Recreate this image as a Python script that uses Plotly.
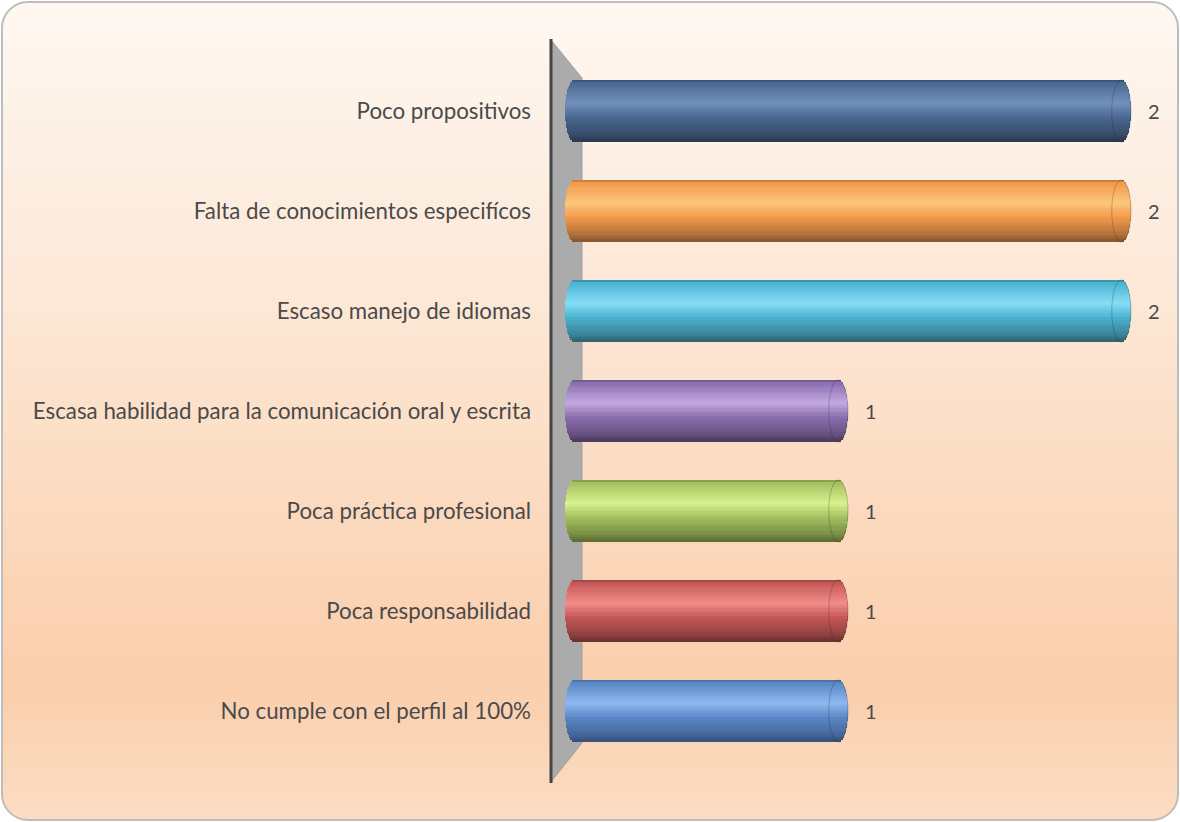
import numpy as np
import plotly.graph_objects as go

# ---------------- data ----------------
categories = [
    "Poco propositivos",
    "Falta de conocimientos especifícos",
    "Escaso manejo de idiomas",
    "Escasa habilidad para la comunicación oral y escrita",
    "Poca práctica profesional",
    "Poca responsabilidad",
    "No cumple con el perfil al 100%",
]
values = [2, 2, 2, 1, 1, 1, 1]

# colour triplets per bar: highlight, base, dark
hi_colors = ["#7191BC", "#FCC77C", "#86DEF7", "#C4A8E0", "#D9F291", "#F28E89", "#90B8F0"]
base_colors = ["#4A6891", "#F39A4C", "#4BB3D0", "#8B6FAF", "#A4C05F", "#C55857", "#5B88C7"]
dark_colors = ["#2A3850", "#84542E", "#2E6270", "#4A3B5C", "#5A6B33", "#6A3030", "#35507A"]

# ---------------- geometry ----------------
W, H = 1180, 822
L, R, T, B = 548, 28, 61, 61
PW, PH = W - L - R, H - T - B
X0PX, UNIT = 565.0, 283.0
xrange = [(L - X0PX) / UNIT, (W - R - X0PX) / UNIT]


def hx(c):
    c = c.lstrip("#")
    return np.array([int(c[i:i + 2], 16) for i in (0, 2, 4)], dtype=float)


def rgb(a):
    a = np.clip(np.round(a), 0, 255).astype(int)
    return "rgb(%d,%d,%d)" % tuple(a)


def mix(a, b, t):
    return a + (b - a) * t


def px(x):
    return (x - L) / PW


def py(y):
    return (H - B - y) / PH


shapes = []

# ---------- background gradient inside rounded rectangle ----------
bx0, bx1, by0, by1, rad = 2.0, 1178.0, 2.0, 820.0, 26.0
grad_stops = [(0, "#FEF8F2"), (200, "#FDEDE0"), (420, "#FCE0C9"), (620, "#FBD2B2"),
              (690, "#FACFAE"), (822, "#FCDDC3")]
gy = np.array([s[0] for s in grad_stops], dtype=float)
gc = np.array([hx(s[1]) for s in grad_stops])


def bg_color(y):
    return rgb(np.array([np.interp(y, gy, gc[:, k]) for k in range(3)]))


def x_left(y):
    if y < by0 + rad:
        d = by0 + rad - y
        return bx0 + rad - np.sqrt(max(rad ** 2 - d ** 2, 0))
    if y > by1 - rad:
        d = y - (by1 - rad)
        return bx0 + rad - np.sqrt(max(rad ** 2 - d ** 2, 0))
    return bx0


NS = 82
edges = np.linspace(by0, by1, NS + 1)
for i in range(NS):
    ya, yb = edges[i], min(edges[i + 1] + 0.8, by1)
    ys = np.linspace(ya, yb, 6)
    lefts = [x_left(y) for y in ys]
    pts = [(lx, y) for lx, y in zip(lefts, ys)]
    pts += [(bx1 - (lx - bx0), y) for lx, y in zip(lefts[::-1], ys[::-1])]
    path = "M " + " L ".join("%.5f,%.5f" % (px(a), py(b)) for a, b in pts) + " Z"
    shapes.append(dict(type="path", xref="paper", yref="paper", path=path,
                       fillcolor=bg_color((ya + yb) / 2), line=dict(width=0), layer="below"))

# rounded border
k = 0.4477
bp = [
    ("M", [(bx0 + rad, by0)]),
    ("L", [(bx1 - rad, by0)]),
    ("C", [(bx1 - rad * k, by0), (bx1, by0 + rad * k), (bx1, by0 + rad)]),
    ("L", [(bx1, by1 - rad)]),
    ("C", [(bx1, by1 - rad * k), (bx1 - rad * k, by1), (bx1 - rad, by1)]),
    ("L", [(bx0 + rad, by1)]),
    ("C", [(bx0 + rad * k, by1), (bx0, by1 - rad * k), (bx0, by1 - rad)]),
    ("L", [(bx0, by0 + rad)]),
    ("C", [(bx0, by0 + rad * k), (bx0 + rad * k, by0), (bx0 + rad, by0)]),
]
bpath = " ".join(cmd + " " + " ".join("%.5f,%.5f" % (px(a), py(b)) for a, b in p) for cmd, p in bp) + " Z"
shapes.append(dict(type="path", xref="paper", yref="paper", path=bpath,
                   line=dict(color="#BDBDBD", width=2), layer="below"))

# ---------- 3D side wall and axis line ----------
wall = [(551, 40), (582, 78), (582, 743), (551, 782)]
wpath = "M " + " L ".join("%.5f,%.5f" % (px(a), py(b)) for a, b in wall) + " Z"
shapes.append(dict(type="path", xref="paper", yref="paper", path=wpath,
                   fillcolor="#ABABAB", line=dict(color="#A0A0A0", width=1), layer="below"))
shapes.append(dict(type="line", xref="paper", yref="paper", x0=px(551), x1=px(551),
                   y0=py(39), y1=py(783), line=dict(color="#454545", width=3), layer="below"))

# ---------- cylinder bars as stacked stripes ----------
fig = go.Figure()
BW = 0.62
NST = 26
sw = BW / NST
r_cap = 0.034
prof_t = [0.0, 0.05, 0.38, 0.6, 0.85, 1.0]

for i in range(NST):
    tc = (i + 0.5) / NST            # 0 top -> 1 bottom
    tr = 2 * tc - 1                 # -1..1 across
    s = np.sqrt(max(1 - tr ** 2, 0))
    inset = r_cap * (1 - s)
    cols = []
    for hc, bc, dc in zip(hi_colors, base_colors, dark_colors):
        h, b, d = hx(hc), hx(bc), hx(dc)
        stops = [mix(b, d, 0.6), b, h, b, mix(b, d, 0.5), d]
        c = np.array([np.interp(tc, prof_t, [st[kk] for st in stops]) for kk in range(3)])
        cols.append(rgb(c))
    fig.add_trace(go.Bar(
        y=categories,
        x=[v - 2 * inset for v in values],
        base=[inset] * len(values),
        orientation="h",
        width=sw * 1.25,
        offset=-BW / 2 + i * sw - sw * 0.1,
        marker=dict(color=cols, line=dict(width=0)),
        hoverinfo="skip",
        showlegend=False,
    ))

# end-face ellipse outlines
for j, v in enumerate(values):
    shapes.append(dict(type="circle", xref="x", yref="y",
                       x0=v - 2 * r_cap, x1=v, y0=j - BW / 2, y1=j + BW / 2,
                       line=dict(color="rgba(30,30,30,0.25)", width=1), layer="above"))

# value labels
annotations = []
for c, v in zip(categories, values):
    annotations.append(dict(x=v, y=c, xref="x", yref="y", text=str(v), showarrow=False,
                            xanchor="left", xshift=15,
                            font=dict(family="Lato, Carlito, sans-serif", size=20, color="#4A4A4A")))

fig.update_layout(
    width=W, height=H,
    margin=dict(l=L, r=R, t=T, b=B, pad=0),
    paper_bgcolor="white",
    plot_bgcolor="rgba(0,0,0,0)",
    barmode="overlay",
    bargap=0,
    showlegend=False,
    shapes=shapes,
    annotations=annotations,
    xaxis=dict(range=xrange, visible=False, fixedrange=True),
    yaxis=dict(type="category", categoryorder="array", categoryarray=categories,
               range=[len(categories) - 0.5, -0.5], showgrid=False, showline=False,
               zeroline=False, ticks="", ticklabelstandoff=16, fixedrange=True,
               tickfont=dict(family="Lato, Carlito, sans-serif", size=22.3, color="#4A4A4A")),
)

fig.write_html("out.html", config={"displayModeBar": False},
               post_script="document.body.style.margin='0';document.body.style.padding='0';")
